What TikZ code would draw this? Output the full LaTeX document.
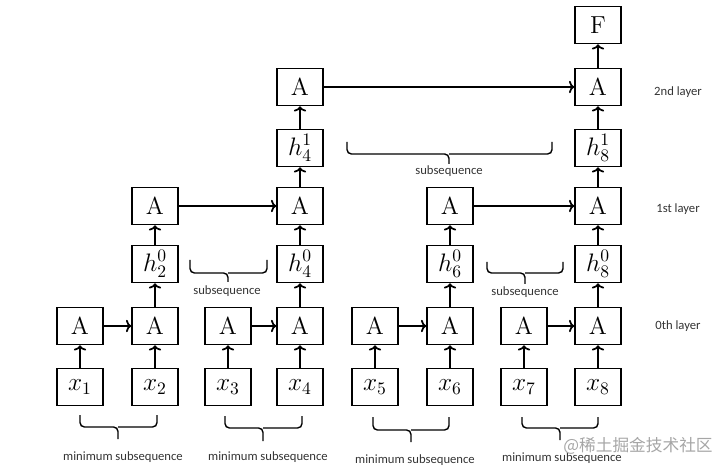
\documentclass[tikz,border=0pt]{standalone}
\usepackage{fontspec}
\newfontfamily\labelfont{Carlito}
\newfontfamily\cjkfont{Noto Sans CJK SC}
\usetikzlibrary{arrows.meta}

\begin{document}
\begin{tikzpicture}[
  x=0.02cm, y=-0.02cm,
  every node/.style={inner sep=1pt},
  box/.style={draw, line width=0.9pt, minimum width=0.92cm, minimum height=0.74cm,
    inner sep=0pt, font=\fontsize{14}{16}\selectfont},
  arrow/.style={draw, line width=1pt, -{To[length=3pt, width=7pt]}},
  % bracket under a group of boxes, and its caption
  bracket/.style={draw, line width=0.8pt, rounded corners=2.5pt},
  caption/.style={font=\labelfont\fontsize{7.2}{9}\selectfont, text=black!80},
  layer/.style={font=\labelfont\fontsize{7.2}{9}\selectfont, text=black!80}]

  \useasboundingbox (0,0) rectangle (720,469);

  % inputs
  \node[box] (x1) at ( 80,387) {$x_1$};
  \node[box] (x2) at (155,387) {$x_2$};
  \node[box] (x3) at (228,387) {$x_3$};
  \node[box] (x4) at (300,387) {$x_4$};
  \node[box] (x5) at (375,387) {$x_5$};
  \node[box] (x6) at (450,387) {$x_6$};
  \node[box] (x7) at (524,387) {$x_7$};
  \node[box] (x8) at (598,387) {$x_8$};

  % 0th layer
  \node[box] (a1) at ( 80,326) {A};
  \node[box] (a2) at (155,326) {A};
  \node[box] (a3) at (228,326) {A};
  \node[box] (a4) at (300,326) {A};
  \node[box] (a5) at (375,326) {A};
  \node[box] (a6) at (450,326) {A};
  \node[box] (a7) at (524,326) {A};
  \node[box] (a8) at (598,326) {A};

  % hidden states and 1st layer
  \node[box] (h2) at (155,264) {$h_2^0$};
  \node[box] (h4) at (300,264) {$h_4^0$};
  \node[box] (h6) at (450,264) {$h_6^0$};
  \node[box] (h8) at (598,264) {$h_8^0$};
  \node[box] (b2) at (155,206) {A};
  \node[box] (b4) at (300,206) {A};
  \node[box] (b6) at (450,206) {A};
  \node[box] (b8) at (598,206) {A};

  % 2nd layer and output
  \node[box] (g4) at (300,148) {$h_4^1$};
  \node[box] (g8) at (598,148) {$h_8^1$};
  \node[box] (c4) at (300, 87) {A};
  \node[box] (c8) at (598, 87) {A};
  \node[box] (f)  at (598, 25) {F};

  % arrows
  \draw[arrow] (x1) -- (a1);
  \draw[arrow] (x2) -- (a2);
  \draw[arrow] (x3) -- (a3);
  \draw[arrow] (x4) -- (a4);
  \draw[arrow] (x5) -- (a5);
  \draw[arrow] (x6) -- (a6);
  \draw[arrow] (x7) -- (a7);
  \draw[arrow] (x8) -- (a8);
  \draw[arrow] (a1) -- (a2);
  \draw[arrow] (a3) -- (a4);
  \draw[arrow] (a5) -- (a6);
  \draw[arrow] (a7) -- (a8);
  \draw[arrow] (a2) -- (h2);
  \draw[arrow] (a4) -- (h4);
  \draw[arrow] (a6) -- (h6);
  \draw[arrow] (a8) -- (h8);
  \draw[arrow] (h2) -- (b2);
  \draw[arrow] (h4) -- (b4);
  \draw[arrow] (h6) -- (b6);
  \draw[arrow] (h8) -- (b8);
  \draw[arrow] (b2) -- (b4);
  \draw[arrow] (b6) -- (b8);
  \draw[arrow] (b4) -- (g4);
  \draw[arrow] (b8) -- (g8);
  \draw[arrow] (g4) -- (c4);
  \draw[arrow] (g8) -- (c8);
  \draw[arrow] (c4) -- (c8);
  \draw[arrow] (c8) -- (f);

  % brackets
  \draw[bracket] ( 80,415) |- (118,427) -- (118,439);
  \draw[bracket] (157,415) |- (118,427);
  \draw[bracket] (225,416) |- (263,428) -- (263,441);
  \draw[bracket] (302,416) |- (263,428);
  \draw[bracket] (373,417) |- (411,430) -- (411,442);
  \draw[bracket] (449,417) |- (411,430);
  \draw[bracket] (522,417) |- (560,428) -- (560,440);
  \draw[bracket] (598,417) |- (560,428);
  \draw[bracket] (190,260) |- (228,273) -- (228,282);
  \draw[bracket] (267,260) |- (228,273);
  \draw[bracket] (487,262) |- (525,273) -- (525,284);
  \draw[bracket] (563,262) |- (525,273);
  \draw[bracket] (347,142) |- (449,154) -- (449,164);
  \draw[bracket] (552,142) |- (449,154);

  % captions
  \node[caption] (m1) at (123,457) {minimum subsequence};
  \node[caption] (m2) at (268,457) {minimum subsequence};
  \node[caption] (m3) at (415,460) {minimum subsequence};
  \node[caption] (m4) at (562,458) {minimum subsequence};
  \node[caption] (s1) at (227,291) {subsequence};
  \node[caption] (s2) at (525,292) {subsequence};
  \node[caption] (s3) at (449,171) {subsequence};

  % layer labels
  \node[layer] (l2) at (678, 92) {2nd layer};
  \node[layer] (l1) at (678,209) {1st layer};
  \node[layer] (l0) at (678,326) {0th layer};

  % watermark
  \node[font=\cjkfont\fontsize{9.5}{11}\selectfont, text=black!35] (wm) at (638,446) {@稀土掘金技术社区};
\end{tikzpicture}
\end{document}
